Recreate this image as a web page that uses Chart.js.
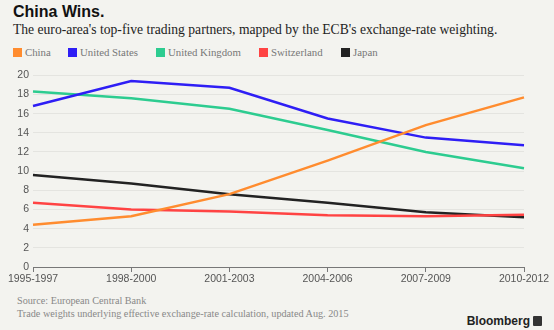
<!DOCTYPE html>
<html>
<head>
<meta charset="utf-8">
<script src="https://cdn.jsdelivr.net/npm/chart.js@4/dist/chart.umd.min.js"></script>
<style>
  body { margin: 0; background: #f3f3ef; }
  #wrap { position: relative; width: 554px; height: 330px; background: #f3f3ef; overflow: hidden; }
  .title { position: absolute; left: 13px; top: 3px; font: bold 16px "Liberation Sans", Arial, sans-serif; color: #111; }
  .sub { position: absolute; left: 13px; top: 22px; font: 13.6px "Liberation Serif", serif; color: #222; white-space: nowrap; }
  .legend { position: absolute; left: 13px; top: 46px; font: 10.8px "Liberation Serif", serif; color: #777; white-space: nowrap; }
  .legend span.item { position: absolute; top: 0; }
  .legend i { display: inline-block; width: 9px; height: 9px; vertical-align: -1px; margin-right: 3px; }
  .src { position: absolute; left: 17px; font: 10.2px "Liberation Serif", serif; color: #888; white-space: nowrap; }
  .brand { position: absolute; right: 12px; top: 314px; font: bold 12px "Liberation Sans", Arial, sans-serif; color: #222; }
  .brand b { display: inline-block; width: 9px; height: 10px; background: #333; vertical-align: -1px; margin-left: 3px; border-radius: 1px; }
  canvas { position: absolute; left: 0; top: 65px; }
</style>
</head>
<body>
<div id="wrap">
  <div class="title">China Wins.</div>
  <div class="sub">The euro-area's top-five trading partners, mapped by the ECB's exchange-rate weighting.</div>
  <div class="legend" id="legend"></div>
  <canvas id="chart" width="554" height="226"></canvas>
  <div class="src" style="top:295px">Source: European Central Bank</div>
  <div class="src" style="top:308px">Trade weights underlying effective exchange-rate calculation, updated Aug. 2015</div>
  <div class="brand">Bloomberg<b></b></div>
</div>
<script>
// periods on the x axis
const periods = ['1995-1997', '1998-2000', '2001-2003', '2004-2006', '2007-2009', '2010-2012'];

// trade weights, percent
const china = [4.4, 5.3, 7.6, 11.1, 14.8, 17.7];
const unitedStates = [16.8, 19.4, 18.7, 15.5, 13.5, 12.7];
const unitedKingdom = [18.3, 17.6, 16.5, 14.3, 12.0, 10.3];
const switzerland = [6.7, 6.0, 5.8, 5.4, 5.3, 5.45];
const japan = [9.6, 8.7, 7.6, 6.7, 5.7, 5.2];

const yTicks = [0, 2, 4, 6, 8, 10, 12, 14, 16, 18, 20];

const series = [
  {name: 'China', data: china, color: '#ff8c2f', x: 0},
  {name: 'United States', data: unitedStates, color: '#2e1ef5', x: 55},
  {name: 'United Kingdom', data: unitedKingdom, color: '#2dcc90', x: 143},
  {name: 'Switzerland', data: switzerland, color: '#ff4343', x: 246},
  {name: 'Japan', data: japan, color: '#222222', x: 328}
];

// legend row
const legend = document.getElementById('legend');
series.forEach(s => {
  let item = document.createElement('span');
  item.className = 'item';
  item.style.left = s.x + 'px';
  item.innerHTML = '<i style="background:' + s.color + '"></i>' + s.name;
  legend.appendChild(item);
});

let tradeChart = new Chart(document.querySelector('#chart'), {
  type: 'line',
  data: {
    labels: periods,
    datasets: series.map(s => ({
      label: s.name,
      data: s.data,
      borderColor: s.color,
      backgroundColor: s.color,
      borderWidth: 2.5,
      pointRadius: 0,
      tension: 0,
      fill: false
    }))
  },
  options: {
    responsive: false,
    animation: false,
    devicePixelRatio: 1,
    layout: { padding: { top: 10, right: 30, left: 0, bottom: 0 } },
    plugins: { legend: { display: false }, tooltip: { enabled: false } },
    scales: {
      x: {
        offset: false,
        grid: { drawOnChartArea: false, drawTicks: true, tickLength: 5, color: '#777' },
        border: { display: true, color: '#777', width: 1 },
        ticks: {
          color: '#555', autoSkip: false, maxRotation: 0, padding: 1,
          font: { family: 'Liberation Sans', size: 10.5 }
        },
        afterFit: scale => { scale.height = 24; }
      },
      y: {
        min: 0,
        max: 20,
        afterBuildTicks: scale => { scale.ticks = yTicks.map(v => ({value: v})); },
        grid: { color: '#e4e4e0', drawTicks: false, lineWidth: 1 },
        border: { display: false },
        ticks: {
          color: '#555', padding: 4,
          font: { family: 'Liberation Sans', size: 10.5 }
        },
        afterFit: scale => { scale.width = 33; }
      }
    }
  }
});
</script>
</body>
</html>
